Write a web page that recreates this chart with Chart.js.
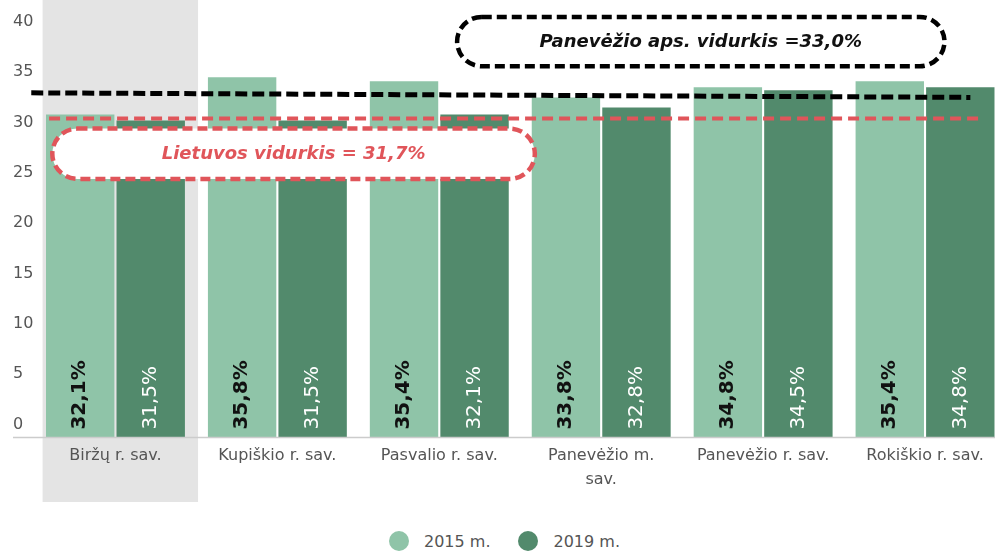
<!DOCTYPE html>
<html lang="lt">
<head>
    <meta charset="UTF-8">
    <title>2015 m. ir 2019 m. rodiklis savivaldybėse</title>
    <style>
        * { margin: 0; padding: 0; box-sizing: border-box; }
        body {
            background: #fff;
            overflow: hidden;
            width: 995px;
            height: 552px;
            position: relative;
            font-family: "DejaVu Sans", Verdana, sans-serif;
        }
        #chart { position: absolute; left: 0; top: 0; }
        /* legend under the chart */
        #legend {
            position: absolute;
            left: 389px;
            top: 531px;
            display: flex;
            align-items: center;
            font-size: 16px;
            color: #555;
        }
        .item { display: flex; align-items: center; margin-right: 28px; }
        .dot { width: 20px; height: 20px; border-radius: 50%; margin-right: 15px; }
    </style>
</head>
<body>
    <canvas id="chart" width="1006" height="505"></canvas>
    <div id="legend"></div>

    <script src="https://cdn.jsdelivr.net/npm/chart.js"></script>
    <script>
        const categories = ['Biržų r. sav.', 'Kupiškio r. sav.', 'Pasvalio r. sav.', ['Panevėžio m.', 'sav.'], 'Panevėžio r. sav.', 'Rokiškio r. sav.'];
        const seriesNames = ['2015 m.', '2019 m.'];
        const values2015 = [32.1, 35.8, 35.4, 33.8, 34.8, 35.4];
        const values2019 = [31.5, 31.5, 32.1, 32.8, 34.5, 34.8];
        const yTicks = [0, 5, 10, 15, 20, 25, 30, 35, 40];

        const highlighted = 0; // Biržų r. sav.

        const lithuaniaAvg = 31.7;
        const lithuaniaText = 'Lietuvos vidurkis = 31,7%';
        const regionAvg = 33.0;
        const regionText = 'Panevėžio aps. vidurkis =33,0%';
        // the county line is hand drawn a bit above its value and slightly tilted
        const regionLineEnds = [34.25, 33.8];

        const colors = ['#8fc4a8', '#528a6c'];
        const red = '#e0555a';

        // legend
        const legend = document.getElementById('legend');
        seriesNames.forEach((name, i) => {
            const item = document.createElement('div');
            item.className = 'item';
            item.innerHTML = '<span class="dot" style="background:' + colors[i] + '"></span>' + name;
            legend.appendChild(item);
        });

        function fmt(v) {
            return v.toFixed(1).replace('.', ',') + '%';
        }

        function dashedPill(ctx, x1, y1, x2, y2, color) {
            const h = y2 - y1;
            ctx.save();
            ctx.fillStyle = '#fff';
            ctx.strokeStyle = color;
            ctx.lineWidth = 4.5;
            ctx.setLineDash([10, 5]);
            ctx.beginPath();
            ctx.roundRect(x1, y1, x2 - x1, h, h / 2);
            ctx.fill();
            ctx.stroke();
            ctx.restore();
        }

        const extras = {
            id: 'extras',
            beforeDraw(chart) {
                const { ctx, scales: { x } } = chart;
                const left = x.getPixelForValue(highlighted - 0.45);
                const right = x.getPixelForValue(highlighted + 0.51);
                ctx.save();
                ctx.fillStyle = '#e4e4e4';
                ctx.fillRect(left, 0, right - left, 502);
                ctx.restore();
            },
            afterDatasetsDraw(chart) {
                const { ctx, chartArea, scales: { x, y } } = chart;

                // bar value labels
                chart.data.datasets.forEach((ds, di) => {
                    const meta = chart.getDatasetMeta(di);
                    meta.data.forEach((bar, i) => {
                        ctx.save();
                        ctx.translate(bar.x, chartArea.bottom - 8);
                        ctx.rotate(-Math.PI / 2);
                        ctx.font = (di === 0 ? 'bold ' : '') + '20px "DejaVu Sans"';
                        ctx.fillStyle = di === 0 ? '#111' : '#fff';
                        ctx.textAlign = 'left';
                        ctx.textBaseline = 'middle';
                        ctx.fillText(fmt(ds.data[i]), 0, 0);
                        ctx.restore();
                    });
                });

                // axis base line
                ctx.save();
                ctx.strokeStyle = '#cccccc';
                ctx.lineWidth = 1.5;
                ctx.beginPath();
                ctx.moveTo(13, y.getPixelForValue(0));
                ctx.lineTo(chart.width, y.getPixelForValue(0));
                ctx.stroke();
                ctx.restore();

                // Lithuania average line
                ctx.save();
                ctx.strokeStyle = red;
                ctx.lineWidth = 4;
                ctx.setLineDash([11, 6]);
                ctx.beginPath();
                ctx.moveTo(x.getPixelForValue(-0.41), y.getPixelForValue(lithuaniaAvg));
                ctx.lineTo(x.getPixelForValue(5.35), y.getPixelForValue(lithuaniaAvg));
                ctx.stroke();
                ctx.restore();

                // county average line
                ctx.save();
                ctx.strokeStyle = '#000';
                ctx.lineWidth = 5;
                ctx.setLineDash([12, 5]);
                ctx.beginPath();
                ctx.moveTo(x.getPixelForValue(-0.52), y.getPixelForValue(regionLineEnds[0]));
                ctx.lineTo(x.getPixelForValue(5.28), y.getPixelForValue(regionLineEnds[1]));
                ctx.stroke();
                ctx.restore();

                // annotation boxes
                const rx1 = x.getPixelForValue(-0.39), rx2 = x.getPixelForValue(2.59);
                const ry1 = y.getPixelForValue(30.7), ry2 = y.getPixelForValue(25.7);
                dashedPill(ctx, rx1, ry1, rx2, ry2, red);
                ctx.save();
                ctx.font = 'italic bold 18px "DejaVu Sans"';
                ctx.fillStyle = red;
                ctx.textAlign = 'center';
                ctx.textBaseline = 'middle';
                ctx.fillText(lithuaniaText, (rx1 + rx2) / 2, (ry1 + ry2) / 2 + 1);
                ctx.restore();

                const bx1 = x.getPixelForValue(2.11), bx2 = x.getPixelForValue(5.12);
                const by1 = y.getPixelForValue(41.8), by2 = y.getPixelForValue(36.9);
                dashedPill(ctx, bx1, by1, bx2, by2, '#000');
                ctx.save();
                ctx.font = 'italic bold 18px "DejaVu Sans"';
                ctx.fillStyle = '#111';
                ctx.textAlign = 'center';
                ctx.textBaseline = 'middle';
                ctx.fillText(regionText, (bx1 + bx2) / 2, (by1 + by2) / 2 + 1);
                ctx.restore();
            }
        };

        const ctx = document.getElementById('chart').getContext('2d');
        new Chart(ctx, {
            type: 'bar',
            data: {
                labels: categories,
                datasets: [
                    { label: seriesNames[0], data: values2015, backgroundColor: colors[0] },
                    { label: seriesNames[1], data: values2019, backgroundColor: colors[1] }
                ]
            },
            options: {
                responsive: false,
                animation: false,
                devicePixelRatio: 1,
                layout: { padding: { left: 13, top: 35, right: 0, bottom: 7 } },
                datasets: {
                    bar: { categoryPercentage: 0.871, barPercentage: 0.97, borderWidth: 0 }
                },
                plugins: {
                    legend: { display: false },
                    tooltip: { enabled: false }
                },
                scales: {
                    x: {
                        grid: { display: false, drawTicks: false },
                        border: { display: false },
                        ticks: {
                            color: '#555',
                            padding: 7,
                            maxRotation: 0,
                            autoSkip: false,
                            font: { family: '"DejaVu Sans"', size: 16, lineHeight: 1.45 }
                        }
                    },
                    y: {
                        min: 0,
                        max: 40,
                        afterFit(scale) { scale.width = 21.5; },
                        afterBuildTicks(scale) { scale.ticks = yTicks.map(v => ({ value: v })); },
                        grid: { display: false, drawTicks: false },
                        border: { display: false },
                        ticks: {
                            color: '#555',
                            crossAlign: 'far',
                            labelOffset: -13,
                            padding: 0,
                            font: { family: '"DejaVu Sans"', size: 16 }
                        }
                    }
                }
            },
            plugins: [extras]
        });
    </script>
</body>
</html>
